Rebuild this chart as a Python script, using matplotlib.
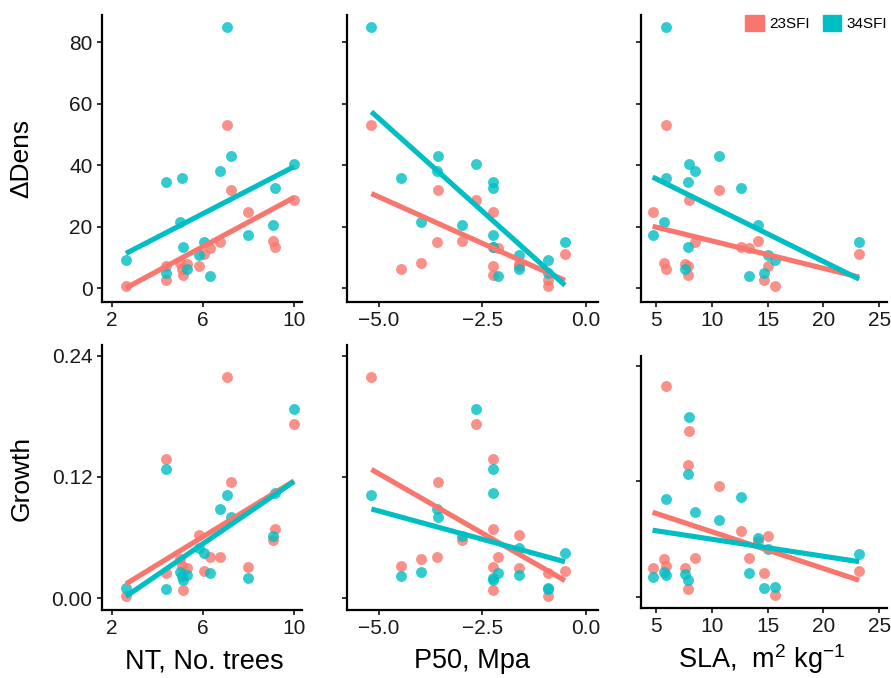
import matplotlib
matplotlib.use("Agg")
import matplotlib.pyplot as plt
from matplotlib.patches import Patch
import numpy as np

plt.rcParams['font.family'] = ['Liberation Sans', 'DejaVu Sans']
plt.rcParams['mathtext.fontset'] = 'custom'
plt.rcParams['mathtext.rm'] = 'Liberation Sans'
plt.rcParams['mathtext.it'] = 'Liberation Sans:italic'

# one value per site (17 sites)
nt = [7.06, 7.22, 9.99, 7.96, 9.08, 9.17, 6.74, 6.29, 6.04, 5.85, 4.40, 4.39, 5.08, 5.13, 5.32, 5.00, 2.63]
p50 = [-5.18, -3.56, -2.65, -2.23, -3.00, -2.23, -3.60, -2.13, -0.50, -1.61, -0.90, -2.23, -4.47, -2.23, -1.61, -3.98, -0.90]
sla = [5.9, 10.64, 7.99, 4.7, 14.13, 12.58, 8.52, 13.36, 23.2, 15.0, 14.67, 7.9, 5.9, 7.9, 7.6, 5.75, 15.66]

dens_23 = [53.2, 32.0, 28.8, 24.7, 15.5, 13.3, 15.2, 13.1, 11.1, 7.4, 2.8, 7.4, 6.4, 4.3, 8.0, 8.3, 0.7]
dens_34 = [84.9, 43.2, 40.4, 17.4, 20.7, 32.6, 38.2, 4.0, 15.1, 10.7, 4.9, 34.5, 35.9, 13.6, 6.3, 21.5, 9.3]
growth_23 = [0.219, 0.115, 0.1725, 0.0303, 0.0576, 0.0683, 0.0404, 0.0404, 0.027, 0.0628, 0.0245, 0.1375, 0.0314, 0.008, 0.030, 0.039, 0.002]
growth_34 = [0.102, 0.0803, 0.187, 0.020, 0.0613, 0.1042, 0.0884, 0.0245, 0.0444, 0.0494, 0.0085, 0.1279, 0.0221, 0.0178, 0.0232, 0.0255, 0.0099]

periods = ['23SFI', '34SFI']
colors = {'23SFI': '#F8766D', '34SFI': '#00BFC4'}

nt_ticks = [2, 6, 10]
nt_ticklabels = ['2', '6', '10']
p50_ticks = [-5.0, -2.5, 0.0]
p50_ticklabels = ['\u22125.0', '\u22122.5', '0.0']
sla_ticks = [5, 10, 15, 20, 25]
sla_ticklabels = ['5', '10', '15', '20', '25']
dens_ticks = [0, 20, 40, 60, 80]
dens_ticklabels = ['0', '20', '40', '60', '80']
growth_ticks = [0.0, 0.12, 0.24]
growth_ticklabels = ['0.00', '0.12', '0.24']

W, H = 891, 678
fig = plt.figure(figsize=(W / 100, H / 100), dpi=100)


def add_ax(l, t, r, b):
    return fig.add_axes([l / W, 1 - b / H, (r - l) / W, (b - t) / H])


# panel boxes in pixels (left, top, right, bottom)
boxes = [
    [(102, 15, 302, 302), (347, 15, 598, 302), (641, 15, 887, 302)],
    [(102, 345, 302, 610), (347, 345, 598, 610), (641, 356, 887, 608)],
]
xdata = [nt, p50, sla]
xlims = [(1.58, 10.34), (-5.77, 0.30), (3.66, 25.7)]
xticks = [(nt_ticks, nt_ticklabels), (p50_ticks, p50_ticklabels), (sla_ticks, sla_ticklabels)]
ydata = [(dens_23, dens_34), (growth_23, growth_34)]
ylims = [(-4.45, 88.9), (-0.0118, 0.2505)]
yticks = [(dens_ticks, dens_ticklabels), (growth_ticks, growth_ticklabels)]

axes = []
for i in range(2):
    row = []
    for j in range(3):
        ax = add_ax(*boxes[i][j])
        x = np.array(xdata[j])
        for k, per in enumerate(periods):
            y = np.array(ydata[i][k])
            ax.scatter(x, y, s=62, color=colors[per], alpha=0.8, linewidths=0, zorder=2)
        # linear fit per period
        for k, per in enumerate(periods):
            y = np.array(ydata[i][k])
            slope, icpt = np.polyfit(x, y, 1)
            xx = np.array([x.min(), x.max()])
            ax.plot(xx, icpt + slope * xx, color=colors[per], lw=3.7, solid_capstyle='butt', zorder=3)
        ax.set_xlim(*xlims[j])
        ax.set_ylim(*ylims[i])
        ax.set_xticks(xticks[j][0])
        ax.set_xticklabels(xticks[j][1])
        ax.set_yticks(yticks[i][0])
        if j == 0:
            ax.set_yticklabels(yticks[i][1])
        else:
            ax.set_yticklabels([])
        for s in ['top', 'right']:
            ax.spines[s].set_visible(False)
        for s in ['left', 'bottom']:
            ax.spines[s].set_linewidth(1.6)
            ax.spines[s].set_color('black')
        ax.tick_params(direction='out', length=3.8, width=1.4, color='#333333',
                       labelsize=15, labelcolor='#1a1a1a', pad=3)
        ax.patch.set_visible(False)
        row.append(ax)
    axes.append(row)

fig.text(21 / W, 1 - 158 / H, '\u0394Dens', rotation=90, ha='center', va='center', fontsize=19)
fig.text(22 / W, 1 - 478 / H, 'Growth', rotation=90, ha='center', va='center', fontsize=19)

fig.text(204 / W, 1 - 668 / H, 'NT, No. trees', ha='center', va='baseline', fontsize=19.5)
fig.text(472 / W, 1 - 668 / H, 'P50, Mpa', ha='center', va='baseline', fontsize=19.5)
fig.text(762 / W, 1 - 668 / H, r'SLA,  $\mathregular{m^2\ kg^{-1}}$', ha='center', va='baseline', fontsize=19.5)

handles = [Patch(color=colors[p], label=p) for p in periods]
axes[0][2].legend(handles=handles, loc='upper right', bbox_to_anchor=(1.0, 1.0), ncol=2,
                  frameon=False, fontsize=11, handlelength=1.2, handleheight=1.2,
                  handletextpad=0.35, columnspacing=0.85, borderaxespad=0, borderpad=0)

fig.savefig('out.png', dpi=100)
